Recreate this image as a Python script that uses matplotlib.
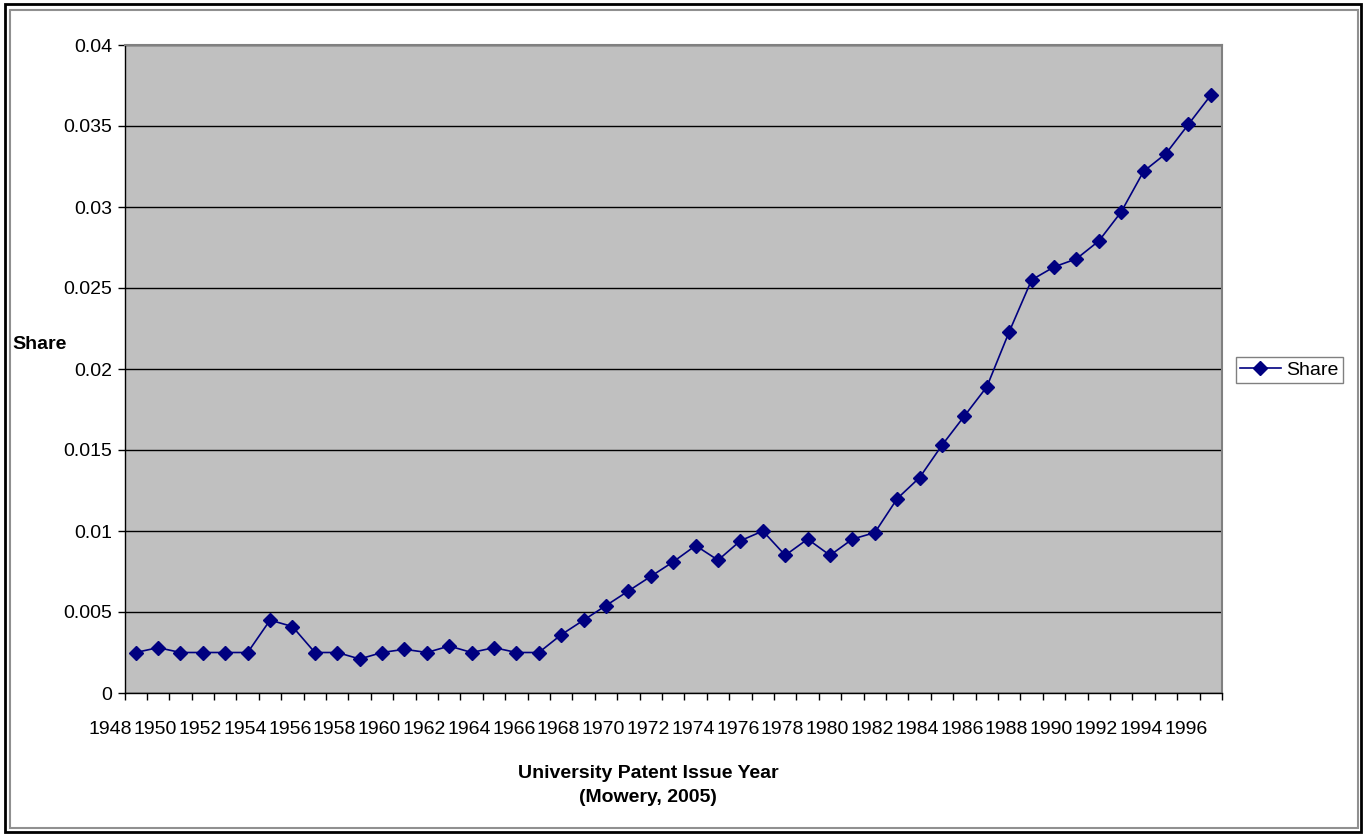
import numpy as np
import matplotlib.pyplot as plt
from matplotlib.patches import Rectangle
from matplotlib.lines import Line2D
import matplotlib.transforms as mtransforms

plt.rcParams['font.family'] = ['Liberation Sans', 'DejaVu Sans']

# data
years = list(range(1948, 1997))
share = [0.0025, 0.0028, 0.0025, 0.0025, 0.0025, 0.0025, 0.0045, 0.0041, 0.0025, 0.0025,
         0.0021, 0.0025, 0.0027, 0.0025, 0.0029, 0.0025, 0.0028, 0.0025, 0.0025, 0.0036,
         0.0045, 0.0054, 0.0063, 0.0072, 0.0081, 0.0091, 0.0082, 0.0094, 0.0100, 0.0085,
         0.0095, 0.0085, 0.0095, 0.0099, 0.0120, 0.0133, 0.0153, 0.0171, 0.0189, 0.0223,
         0.0255, 0.0263, 0.0268, 0.0279, 0.0297, 0.0322, 0.0333, 0.0351, 0.0369]
year_labels = [str(y) for y in years[::2]]
y_ticks = [0, 0.005, 0.01, 0.015, 0.02, 0.025, 0.03, 0.035, 0.04]
y_ticklabels = ['0', '0.005', '0.01', '0.015', '0.02', '0.025', '0.03', '0.035', '0.04']

navy = '#000080'
fs = 14

fig = plt.figure(figsize=(13.66, 8.36), dpi=100)

# outer chart frame
fig.patches.append(Rectangle((5 / 1366, 4 / 836), 1356 / 1366, 828 / 836, transform=fig.transFigure,
                             fill=False, edgecolor='black', linewidth=2))
fig.patches.append(Rectangle((10 / 1366, 8 / 836), 1348 / 1366, 818 / 836, transform=fig.transFigure,
                             fill=False, edgecolor='#909090', linewidth=1.5))

ax = fig.add_axes([124.5 / 1366, 1 - 693 / 836, 1097.5 / 1366, 648 / 836])
ax.set_facecolor('#C0C0C0')

x = np.arange(len(years))
ax.plot(x, share, color=navy, linewidth=1.2, marker='D', markersize=7,
        markerfacecolor=navy, markeredgecolor=navy, zorder=3, clip_on=False)

ax.set_xlim(-0.5, len(years) - 0.5)
ax.set_ylim(0, 0.04)
ax.set_yticks(y_ticks)
ax.set_yticklabels(y_ticklabels, fontsize=fs)
ax.yaxis.grid(True, color='black', linewidth=1)
ax.set_axisbelow(True)

# tick marks at category boundaries, labels drawn separately
ax.set_xticks(np.arange(len(years) + 1) - 0.5)
ax.set_xticklabels([])
ax.tick_params(axis='x', direction='out', length=5, width=1, color='black')
ax.tick_params(axis='y', direction='out', length=5, width=1, color='black', pad=4)

trans = mtransforms.blended_transform_factory(ax.transData, ax.transAxes)
for i, lab in enumerate(year_labels):
    ax.text(2 * i - 1.12, -0.057, lab, transform=trans, ha='center', va='center',
            fontsize=fs, clip_on=False)

for side in ['top', 'right']:
    ax.spines[side].set_color('#808080')
    ax.spines[side].set_linewidth(1.5)
for side in ['left', 'bottom']:
    ax.spines[side].set_color('black')
    ax.spines[side].set_linewidth(1)

fig.text(12 / 1366, 1 - 345 / 836, 'Share', fontsize=fs, fontweight='bold', ha='left', va='center')
fig.text(648 / 1366, 1 - 773 / 836, 'University Patent Issue Year', fontsize=fs,
         fontweight='bold', ha='center', va='center')
fig.text(648 / 1366, 1 - 797 / 836, '(Mowery, 2005)', fontsize=fs,
         fontweight='bold', ha='center', va='center')

handle = Line2D([], [], color=navy, linewidth=1.2, marker='D', markersize=7,
                markerfacecolor=navy, markeredgecolor=navy)
leg = fig.legend([handle], ['Share'], loc='center left',
                 bbox_to_anchor=(1236 / 1366, 1 - 370 / 836), fontsize=fs,
                 frameon=True, fancybox=False, borderpad=0.2, handlelength=2.1,
                 handletextpad=0.3, borderaxespad=0)
leg.get_frame().set_edgecolor('#606060')
leg.get_frame().set_linewidth(1)

plt.savefig('out.png', dpi=100)
